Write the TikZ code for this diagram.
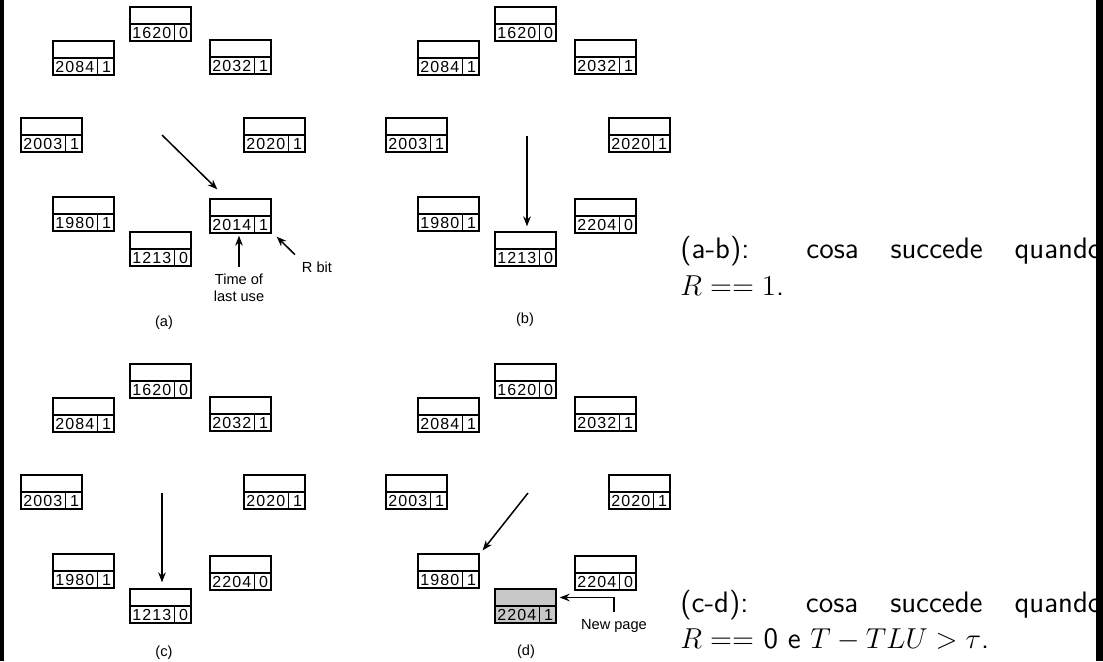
\documentclass[tikz,border=0pt]{standalone}
\usepackage{fontspec}
\usetikzlibrary{arrows.meta}

\newfontfamily\cifre[LetterSpace=7]{Liberation Sans}
\newfontfamily\etichetta{Liberation Sans}
\definecolor{grigio}{RGB}{200,200,200}

% una pagina: #1 riempimento, #2 nome, #3 posizione, #4 tempo, #5 bit R
\newcommand{\pagina}[5][white]{%
  \node[pagina, fill=#1] (#2) at (#3) {};
  \draw[bordo] (#2.west) -- (#2.east);
  \draw[bordo] ([xshift=22.5pt]#2.south west) -- ([xshift=22.5pt]#2.west);
  \node[cifra] at ([xshift=11.25pt,yshift=4.25pt]#2.south west) {#4};
  \node[cifra] at ([xshift=-4pt,yshift=4.25pt]#2.south east) {#5};
}

\begin{document}
\begin{tikzpicture}[x=0.5pt, y=-0.5pt,
    pagina/.style={draw, line width=0.65pt, minimum width=30.5pt, minimum height=17pt, inner sep=0pt},
    bordo/.style={line width=0.65pt},
    cifra/.style={font=\cifre\fontsize{8}{9}\selectfont, inner sep=0pt},
    etich/.style={font=\etichetta\fontsize{7.3}{8.3}\selectfont, align=center},
    freccia/.style={-{Stealth[length=5pt,width=3.8pt]}, line width=0.75pt},
    testo/.style={anchor=base west, inner sep=0pt, font=\sffamily\fontsize{14.8}{18}\selectfont}]
    \useasboundingbox (0,0) rectangle (1103,661);

    % Pagine comuni ai quattro orologi
    \foreach \pan/\dx/\dy in {a/0/0, b/365/0, c/0/357, d/365/357} {
      \begin{scope}[shift={(\dx,\dy)}]
        \foreach \num/\bit/\px/\py in {1620/0/160.5/24, 2084/1/83.5/58, 2032/1/240.5/57,
            2003/1/51.5/135, 2020/1/274.5/135, 1980/1/83.5/214}
          \pagina{\pan\num}{\px,\py}{\num}{\bit};
      \end{scope}
    }

    % Pagine che cambiano
    \pagina{a1213}{160.5,249}{1213}{0};
    \pagina{a2014}{240.5,216}{2014}{1};
    \pagina{b1213}{525.5,249}{1213}{0};
    \pagina{b2204}{605.5,216}{2204}{0};
    \pagina{c1213}{160.5,606}{1213}{0};
    \pagina{c2204}{240.5,573}{2204}{0};
    \pagina{d2204}{605.5,573}{2204}{0};
    \pagina[grigio]{dnuova}{525.5,606}{2204}{1};

    % Lancette
    \coordinate (a-lancetta) at (162,135);
    \coordinate (b-lancetta) at (527,136);
    \coordinate (c-lancetta) at (162,493);
    \coordinate (d-lancetta) at (528,493);
    \draw[freccia] (a-lancetta) -- ([xshift=4pt,yshift=4.5pt]a2014.north west);
    \draw[freccia, shorten >=2.5pt] (b-lancetta) -- (b-lancetta |- b1213.north);
    \draw[freccia, shorten >=3pt] (c-lancetta) -- (c-lancetta |- c1213.north);
    \draw[freccia] (d-lancetta) -- ([xshift=1.5pt,yshift=1.5pt]d1980.north east);

    % Etichette
    \node[etich, inner sep=3.5pt] (tempo) at (239,288) {Time of\\last use};
    \node[etich] (rbit) at (317,267) {R bit};
    \node[etich] (nuova) at (614,626) {New page};
    \draw[freccia, shorten >=1pt] (tempo) -- (tempo |- a2014.south);
    \draw[freccia] (rbit.north west) -- ([xshift=2.5pt,yshift=-1.5pt]a2014.south east);
    \draw[freccia] (nuova.north) |- ([xshift=1.5pt,yshift=4.25pt]dnuova.east);

    \node[etich] (lab-a) at (164,323) {(a)};
    \node[etich] (lab-b) at (525,320) {(b)};
    \node[etich] (lab-c) at (164,653) {(c)};
    \node[etich] (lab-d) at (526,652) {(d)};

    % Testo a destra
    \node[testo] (ab) at (680,258) {\makebox[211pt][s]{(a-b): cosa succede quando}};
    \node[testo] (ab2) at (680,295) {$R == 1$.};
    \node[testo] (cd) at (680,612) {\makebox[211pt][s]{(c-d): cosa succede quando}};
    \node[testo] (cd2) at (680,648) {$R ==$ 0 e $T - TLU > \tau$.};

    % Bordi neri
    \fill[black] (0,0) rectangle (4,661);
    \fill[black] (1096,0) rectangle (1103,661);
\end{tikzpicture}
\end{document}
